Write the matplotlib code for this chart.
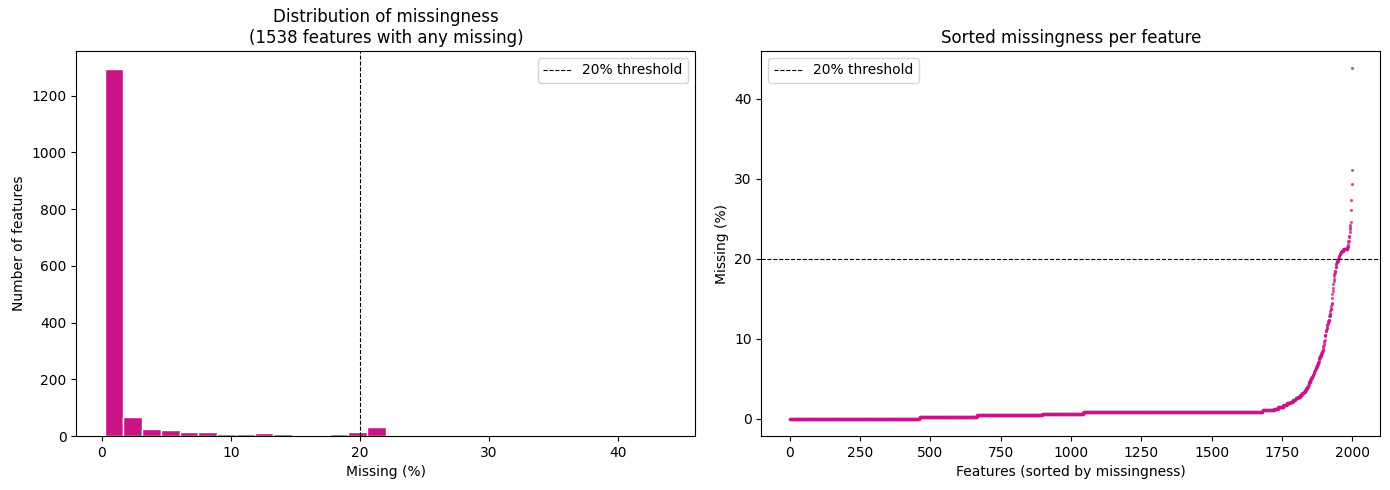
import numpy as np
import matplotlib
matplotlib.use("Agg")
import matplotlib.pyplot as plt

# missingness (%) levels and how many features sit on each level
miss_levels = [0.0, 0.21, 0.42, 0.63, 0.84, 1.05, 1.26, 1.47,
               1.68, 1.89, 2.10, 2.31, 2.52, 2.73, 2.94,
               3.15, 3.36, 3.57, 3.78, 3.99, 4.20, 4.41,
               4.62, 4.83, 5.04, 5.25, 5.46, 5.67, 5.88,
               6.09, 6.30, 6.51, 6.72, 6.93, 7.14, 7.35,
               7.56, 7.77, 7.98, 8.19, 8.40, 8.61, 8.82,
               9.03, 9.24, 9.45, 9.66, 9.87, 10.29,
               10.50, 10.92, 11.13, 11.34, 11.76,
               11.97, 12.18, 12.39, 12.81, 13.02,
               13.44, 13.65, 14.07, 14.28, 14.49,
               15.12, 15.54, 15.96,
               16.38, 16.80, 17.22, 17.43,
               17.85, 18.06, 18.27, 18.48, 18.90,
               19.32, 19.53, 19.74, 19.95, 20.16, 20.37,
               20.58, 20.79, 21.00, 21.21, 21.42, 21.63, 21.84,
               22.26, 22.68, 22.89, 23.31,
               23.73, 23.94, 24.15, 24.57, 26.04, 27.30, 29.40, 31.08, 43.79]
level_counts = [462, 204, 232, 146, 637, 41, 14, 19,
                12, 12, 10, 9, 8, 8, 7,
                6, 5, 4, 4, 3, 2, 1,
                4, 3, 3, 3, 3, 2, 2,
                3, 3, 2, 3, 2, 2, 1,
                3, 3, 2, 3, 2, 1, 1,
                1, 1, 1, 1, 1, 1,
                2, 2, 1, 2, 2,
                2, 2, 2, 2, 2,
                1, 2, 1, 1, 1,
                1, 1, 1,
                1, 1, 1, 1,
                1, 1, 1, 2, 2,
                2, 2, 3, 2, 2, 2,
                3, 4, 6, 14, 2, 1, 1,
                2, 1, 1, 1,
                1, 1, 1, 1, 1, 1, 1, 1, 1]

threshold = 20
color = "mediumvioletred"

missing = np.sort(np.repeat(miss_levels, level_counts))
nonzero = missing[missing > 0]

fig, axes = plt.subplots(1, 2, figsize=(13.9, 4.9), dpi=100)
fig.subplots_adjust(left=0.055, right=0.993, top=0.896, bottom=0.11, wspace=0.107)

ax = axes[0]
ax.hist(nonzero, bins=30, color=color, edgecolor="white")
ax.axvline(threshold, color="black", ls="--", lw=0.8, label="20% threshold")
ax.set_xlabel("Missing (%)")
ax.set_ylabel("Number of features")
ax.set_title("Distribution of missingness\n(1538 features with any missing)")
ax.legend(loc="upper right")

ax = axes[1]
ax.scatter(np.arange(len(missing)), missing, s=2, color=color, alpha=0.6)
ax.axhline(threshold, color="black", ls="--", lw=0.8, label="20% threshold")
ax.set_xlabel("Features (sorted by missingness)")
ax.set_ylabel("Missing (%)")
ax.set_title("Sorted missingness per feature")
ax.legend(loc="upper left")

plt.savefig("out.png")
